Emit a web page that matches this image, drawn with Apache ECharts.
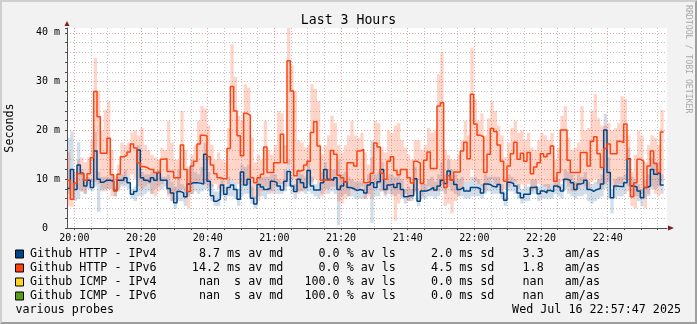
<!DOCTYPE html>
<html>
<head>
<meta charset="utf-8">
<script src="https://cdn.jsdelivr.net/npm/echarts@6/dist/echarts.min.js"></script>
<style>
  html, body { margin: 0; padding: 0; background: #f2f2f2; }
  #chart { width: 697px; height: 324px; }
</style>
</head>
<body>
<div id="chart"></div>
<script>
// Time axis in minutes of the day; the window runs 19:57:47 .. 22:57:47, one sample per minute.
const START = 19 * 60 + 57 + 47 / 60;
const SPAN = 180;

const SERIES_NAMES = ['Github HTTP - IPv4', 'Github HTTP - IPv6', 'Github ICMP - IPv4', 'Github ICMP - IPv6'];
const SERIES_COLORS = ['#004586', '#ff420e', '#ffd320', '#579d1c'];

// legend statistics
const AVG_MEDIAN = ['8.7', '14.2', 'nan', 'nan'];
const AVG_UNIT = ['ms', 'ms', ' s', ' s'];
const AVG_LOSS = ['0.0', '0.0', '100.0', '100.0'];
const AVG_SD = ['2.0', '4.5', '0.0', '0.0'];
const AM_AS = ['3.3', '1.8', 'nan', 'nan'];

const Y_TICKS_MAJOR = [0, 10, 20, 30, 40];
const X_LABEL_TIMES = ['20:00', '20:20', '20:40', '21:00', '21:20', '21:40', '22:00', '22:20', '22:40'];

// median RTT (ms) per minute
const ipv4Median = [
  8.1, 12.0, 7.9, 12.9, 11.2, 8.6, 9.8, 8.3, 15.8, 10.0, 9.4, 9.8, 9.8, 9.6, 7.7, 9.8, 9.8, 10.3, 9.3, 6.9, 7.5, 16.0, 10.3, 9.8, 9.4, 10.3, 9.8, 11.4, 9.8, 9.8,
  8.1, 7.2, 5.2, 7.5, 7.2, 6.4, 9.0, 9.3, 9.3, 9.2, 9.0, 15.1, 9.6, 6.6, 5.5, 5.9, 8.8, 6.9, 8.3, 8.8, 7.9, 5.9, 11.5, 8.8, 10.0, 6.1, 4.9, 8.9, 8.4, 7.9,
  8.1, 9.6, 9.3, 8.6, 7.8, 9.6, 11.6, 8.6, 7.5, 10.0, 9.3, 8.3, 11.8, 8.6, 7.8, 7.8, 9.3, 12.0, 10.0, 9.8, 10.3, 7.9, 8.6, 9.5, 8.3, 8.1, 7.7, 7.9, 7.7, 7.2,
  8.8, 9.3, 8.3, 9.5, 12.0, 7.9, 8.8, 9.0, 8.3, 9.1, 7.9, 6.4, 6.6, 6.6, 10.1, 5.5, 7.6, 7.6, 7.9, 8.3, 7.8, 8.6, 9.8, 9.1, 11.7, 9.8, 8.9, 7.9, 8.3, 7.6,
  7.6, 8.3, 8.3, 8.1, 7.2, 9.0, 8.9, 8.5, 8.4, 8.9, 7.2, 5.7, 9.4, 9.1, 8.6, 7.2, 6.2, 6.9, 6.9, 8.3, 8.4, 7.0, 7.6, 7.2, 7.7, 7.5, 8.6, 8.3, 7.6, 10.0,
  9.8, 9.3, 7.9, 9.0, 9.2, 9.8, 7.9, 7.5, 7.9, 8.1, 9.0, 20.1, 11.4, 6.2, 8.6, 8.5, 8.5, 9.3, 14.2, 8.6, 8.4, 7.6, 6.2, 8.3, 8.6, 12.0, 11.0, 11.4, 8.8
];
const ipv6Median = [
  9.8, 5.9, 9.2, 11.1, 11.1, 9.8, 11.1, 14.4, 28.0, 22.8, 15.3, 15.3, 18.4, 10.9, 7.6, 11.0, 14.6, 14.9, 15.6, 17.2, 16.4, 13.3, 12.6, 12.4, 12.0, 12.0, 11.4, 11.4, 14.1, 14.2,
  11.6, 11.6, 10.3, 10.3, 17.0, 12.0, 7.5, 12.7, 13.7, 17.2, 19.0, 18.9, 14.6, 12.9, 11.1, 10.3, 10.1, 10.1, 16.3, 29.0, 24.0, 18.9, 14.8, 23.5, 23.1, 10.3, 9.3, 10.3, 11.0, 16.6,
  11.4, 11.4, 13.4, 13.4, 19.2, 13.4, 34.3, 28.1, 10.7, 11.7, 11.9, 12.9, 13.7, 19.6, 21.8, 16.8, 9.8, 9.8, 9.8, 15.9, 15.1, 10.8, 10.3, 9.4, 13.4, 13.4, 12.7, 15.8, 16.1, 9.3,
  9.5, 11.2, 17.4, 16.6, 11.2, 10.0, 13.7, 14.6, 11.8, 10.9, 12.0, 12.0, 10.3, 9.2, 13.7, 13.3, 9.1, 13.9, 15.6, 12.2, 12.2, 25.0, 25.7, 8.3, 10.7, 9.8, 11.5, 11.5, 15.8, 17.6,
  14.2, 27.4, 21.3, 19.0, 18.7, 11.4, 15.1, 20.4, 19.8, 17.0, 13.7, 9.6, 12.7, 15.2, 17.6, 14.1, 15.3, 13.7, 15.5, 11.1, 12.5, 13.4, 15.2, 14.6, 15.2, 16.8, 9.6, 11.4, 20.1, 20.1,
  13.9, 11.4, 11.4, 11.4, 15.5, 15.5, 12.7, 17.8, 18.7, 15.2, 12.4, 16.3, 17.2, 15.2, 15.2, 17.8, 17.5, 21.3, 14.1, 6.4, 9.3, 14.1, 13.7, 8.3, 12.7, 15.8, 13.2, 11.4, 19.7
];

// smoke: spread of the individual pings per minute (low / high, ms)
const ipv4SmokeLow = [
  7.0, 6.5, 5.5, 6.0, 7.5, 7.0, 8.0, 7.5, 8.5, 3.3, 7.5, 8.0, 8.0, 8.0, 6.5, 8.0, 8.5, 8.5, 8.0, 6.0, 5.5, 6.5, 6.5, 7.0, 7.5, 7.0, 8.0, 8.5, 8.0, 8.5,
  7.0, 5.5, 4.0, 5.5, 5.5, 4.5, 6.5, 7.0, 7.5, 7.0, 7.5, 8.0, 7.5, 5.5, 4.5, 4.5, 6.5, 5.5, 6.5, 6.5, 6.0, 4.5, 6.5, 7.0, 7.0, 5.0, 4.0, 6.5, 6.5, 6.0,
  7.0, 7.5, 7.0, 7.0, 7.0, 7.5, 8.5, 7.0, 6.0, 7.5, 7.5, 7.0, 7.5, 7.0, 6.5, 6.0, 7.0, 8.0, 7.0, 7.5, 7.0, 0.6, 6.5, 7.0, 6.5, 6.5, 6.0, 6.0, 6.0, 6.0,
  7.0, 1.0, 6.5, 6.5, 7.5, 6.5, 7.0, 7.0, 6.5, 7.0, 6.0, 5.0, 5.5, 5.5, 7.5, 4.5, 6.0, 6.0, 6.5, 6.5, 6.0, 6.5, 7.5, 7.0, 8.5, 7.5, 7.0, 6.5, 6.5, 6.0,
  6.0, 6.5, 6.5, 6.5, 6.0, 7.0, 7.5, 7.0, 7.0, 7.0, 6.0, 4.5, 7.5, 7.5, 7.0, 6.0, 5.0, 5.5, 5.5, 7.0, 7.0, 5.5, 6.0, 6.0, 6.0, 6.0, 7.0, 6.5, 6.0, 8.0,
  7.0, 6.5, 6.0, 6.5, 6.5, 7.0, 5.5, 5.0, 5.5, 6.0, 6.5, 8.0, 6.0, 3.0, 6.0, 6.5, 6.5, 7.0, 8.5, 6.5, 6.5, 5.5, 4.5, 6.0, 6.5, 8.0, 8.0, 8.5, 7.0
];
const ipv4SmokeHigh = [
  18.5, 19.8, 9.0, 17.6, 12.0, 9.5, 10.5, 10.0, 19.7, 11.5, 10.5, 10.5, 10.5, 11.0, 8.5, 11.0, 11.0, 12.0, 10.5, 8.0, 8.5, 17.0, 11.5, 11.0, 11.0, 11.5, 11.5, 12.0, 10.5, 10.5,
  11.0, 9.5, 8.5, 12.0, 9.0, 8.5, 12.5, 14.0, 11.5, 11.0, 12.5, 17.5, 11.5, 9.0, 7.5, 7.5, 10.0, 8.5, 10.5, 10.0, 9.5, 8.0, 13.0, 12.5, 13.0, 8.5, 6.5, 10.5, 10.5, 10.5,
  10.5, 11.0, 11.0, 10.0, 9.5, 12.0, 14.0, 10.5, 9.0, 12.0, 11.0, 10.5, 13.5, 10.5, 9.0, 9.0, 11.5, 13.5, 12.0, 12.0, 12.0, 14.0, 11.0, 11.5, 10.5, 10.0, 9.5, 9.5, 9.5, 9.0,
  11.0, 18.0, 11.0, 11.5, 13.5, 10.0, 11.0, 11.0, 10.5, 11.0, 10.0, 8.0, 8.5, 8.0, 12.5, 7.5, 9.5, 9.0, 10.0, 10.5, 9.5, 11.0, 13.5, 11.0, 14.0, 12.0, 11.0, 10.0, 10.5, 9.5,
  9.5, 10.5, 10.5, 10.0, 9.0, 11.0, 10.5, 10.5, 10.5, 10.5, 9.0, 7.5, 11.0, 10.5, 10.0, 9.0, 8.0, 8.5, 8.5, 10.0, 10.0, 8.5, 9.0, 9.0, 9.0, 9.0, 10.5, 10.0, 9.0, 12.0,
  11.5, 11.0, 9.5, 11.0, 10.5, 11.5, 9.5, 9.0, 9.5, 10.0, 11.0, 23.4, 14.5, 8.0, 10.0, 10.5, 10.5, 11.0, 16.5, 10.5, 10.0, 9.0, 8.0, 10.0, 11.0, 14.5, 13.5, 13.5, 11.0
];
const ipv6SmokeLow = [
  4.5, 4.3, 8.5, 8.0, 7.5, 7.0, 9.0, 9.5, 9.5, 9.0, 8.0, 7.5, 8.0, 6.5, 6.5, 7.5, 9.0, 9.5, 10.5, 11.0, 10.0, 8.5, 8.0, 8.5, 9.0, 7.0, 6.5, 7.5, 9.0, 10.0,
  6.5, 5.5, 7.0, 7.5, 8.0, 6.0, 4.0, 7.0, 9.0, 9.5, 9.0, 9.0, 8.5, 8.5, 9.0, 8.0, 7.5, 8.5, 9.0, 10.0, 9.5, 9.0, 8.5, 9.0, 9.0, 6.0, 6.0, 5.5, 7.5, 8.5,
  7.5, 7.0, 8.5, 9.0, 9.0, 8.5, 13.0, 10.0, 8.0, 7.0, 7.5, 8.0, 9.0, 9.5, 10.0, 9.0, 6.5, 7.0, 8.0, 8.5, 8.5, 5.5, 5.0, 6.0, 6.5, 8.0, 7.5, 8.0, 8.5, 6.0,
  6.5, 6.0, 9.0, 9.0, 7.5, 7.0, 8.0, 6.5, 1.5, 5.0, 6.5, 7.0, 5.5, 6.0, 7.0, 7.5, 6.5, 7.5, 8.5, 7.5, 7.5, 7.5, 9.0, 4.5, 5.0, 3.0, 5.5, 6.5, 8.0, 9.5,
  9.5, 12.0, 9.5, 9.0, 8.5, 7.5, 9.0, 10.0, 9.0, 8.5, 7.0, 8.0, 8.5, 9.0, 9.5, 8.0, 9.0, 8.5, 9.0, 7.5, 8.0, 9.0, 9.0, 8.5, 8.0, 9.0, 8.5, 8.0, 9.5, 9.5,
  8.5, 7.5, 7.5, 8.0, 9.0, 8.5, 8.0, 9.5, 10.0, 9.0, 8.0, 9.0, 9.5, 8.5, 8.0, 9.0, 9.0, 10.0, 7.5, 4.5, 4.0, 6.5, 7.0, 4.0, 7.0, 8.5, 7.0, 6.5, 9.5
];
const ipv6SmokeHigh = [
  15.5, 12.0, 11.5, 14.0, 14.5, 13.5, 14.5, 18.0, 34.9, 28.2, 20.0, 24.2, 25.9, 16.0, 10.5, 13.0, 17.5, 17.0, 17.5, 19.5, 20.0, 19.0, 20.5, 17.0, 16.0, 15.0, 14.5, 14.0, 16.5, 16.0,
  22.0, 17.5, 14.0, 14.0, 24.0, 16.0, 12.0, 15.0, 17.0, 22.0, 25.0, 24.5, 21.0, 17.0, 14.0, 15.5, 14.0, 13.5, 20.5, 37.7, 31.0, 23.0, 22.0, 29.5, 28.8, 18.5, 13.5, 15.0, 14.0, 22.0,
  16.0, 15.0, 17.0, 24.0, 23.5, 17.0, 41.0, 33.3, 28.0, 18.0, 17.5, 16.5, 17.0, 29.5, 28.5, 26.0, 15.0, 17.0, 19.0, 23.0, 21.5, 17.0, 15.5, 17.0, 19.0, 22.0, 19.0, 18.5, 19.5, 15.5,
  13.0, 14.5, 22.0, 21.5, 16.5, 15.5, 20.0, 19.5, 21.0, 21.5, 18.0, 16.5, 15.0, 14.0, 18.0, 18.0, 16.0, 17.0, 20.5, 19.5, 20.0, 31.5, 36.0, 16.0, 15.0, 14.0, 14.0, 15.0, 18.0, 22.0,
  19.0, 37.0, 26.5, 22.0, 23.5, 19.0, 22.5, 26.0, 24.0, 21.0, 19.0, 14.5, 17.5, 20.5, 22.0, 19.5, 20.0, 18.0, 19.5, 16.5, 16.0, 18.0, 19.5, 19.0, 18.0, 19.5, 14.0, 16.5, 23.0, 25.0,
  18.5, 16.0, 16.5, 17.5, 25.0, 20.0, 20.5, 24.0, 27.5, 22.5, 21.0, 21.0, 21.5, 20.0, 20.5, 21.5, 27.0, 26.5, 19.0, 11.5, 15.0, 20.0, 19.0, 13.5, 17.0, 19.0, 18.5, 17.0, 24.2
];

// ---- helpers ----
function hhmm(v) {
  const h = Math.floor(v / 60), m = Math.round(v - h * 60);
  return String(h).padStart(2, '0') + ':' + String(m).padStart(2, '0');
}
function toMinutes(label) {
  const p = label.split(':');
  return (+p[0]) * 60 + (+p[1]);
}
const xLabelValues = X_LABEL_TIMES.map(toMinutes);
const xTickValues = [];
for (let t = xLabelValues[0]; t < START + SPAN; t += 5) xTickValues.push(t);

function stepLine(values) {
  const pts = values.map((v, i) => [START + i, v]);
  pts.push([START + values.length, values[values.length - 1]]);
  return pts;
}
function smokeData(lo, hi) {
  return lo.map((v, i) => [START + i, v, hi[i]]);
}
function smokeSeries(name, lo, hi, fill) {
  return {
    type: 'custom', name: name, z: 1, clip: true, silent: true,
    data: smokeData(lo, hi),
    encode: { x: 0, y: [1, 2] },
    renderItem: function (params, api) {
      const t = api.value(0);
      const a = api.coord([t, api.value(2)]);
      const b = api.coord([t + 1, api.value(1)]);
      return {
        type: 'rect',
        shape: { x: a[0], y: a[1], width: b[0] - a[0], height: b[1] - a[1] },
        style: { fill: fill }
      };
    }
  };
}
function legendRow(i) {
  return SERIES_NAMES[i].padEnd(18) + AVG_MEDIAN[i].padStart(9) + ' ' + AVG_UNIT[i] + ' av md' +
    AVG_LOSS[i].padStart(8) + ' % av ls' + AVG_SD[i].padStart(8) + ' ms sd' +
    AM_AS[i].padStart(7) + '   am/as';
}
const legendText = {};
SERIES_NAMES.forEach((n, i) => { legendText[n] = legendRow(i); });

const MONO = 'DejaVu Sans Mono';
const GRID_MINOR = 'rgba(143,143,143,0.55)';
const GRID_MAJOR = 'rgba(222,80,80,0.55)';
const AXIS_COLOR = '#505050';
const ARROW_COLOR = '#7f1f1f';

const chart = echarts.init(document.getElementById('chart'), null, { renderer: 'canvas' });
chart.setOption({
  backgroundColor: '#f2f2f2',
  animation: false,
  title: {
    text: 'Last 3 Hours', left: 'center', top: 14, padding: 0,
    textStyle: { fontFamily: MONO, fontSize: 13.2, fontWeight: 'normal', color: '#000' }
  },
  grid: { left: 67, top: 28, width: 600, height: 200, backgroundColor: '#fff', show: true, borderWidth: 0, outerBoundsMode: 'none' },
  xAxis: [{
    type: 'value', min: START, max: START + SPAN,
    axisLine: { onZero: false, lineStyle: { color: AXIS_COLOR, width: 1 } },
    axisTick: { show: true, length: 2, customValues: xTickValues, lineStyle: { color: AXIS_COLOR } },
    axisLabel: {
      customValues: xLabelValues, margin: 5, formatter: hhmm,
      fontFamily: MONO, fontSize: 10, color: '#000'
    },
    splitLine: {
      show: true,
      lineStyle: { color: [GRID_MAJOR, GRID_MINOR, GRID_MINOR, GRID_MINOR], width: 1, type: [1, 2] }
    }
  }, {
    type: 'value', min: START, max: START + SPAN, position: 'bottom',
    axisLine: { show: true, onZero: false, symbol: ['none', 'triangle'], symbolSize: [5, 6], symbolOffset: [0, 4],
      lineStyle: { color: ARROW_COLOR, width: 0 } },
    axisTick: { show: false }, axisLabel: { show: false }, splitLine: { show: false }
  }],
  yAxis: [{
    type: 'value', min: 0, max: 41, interval: 2,
    name: 'Seconds', nameLocation: 'middle', nameRotate: 90, nameGap: 51,
    nameTextStyle: { fontFamily: MONO, fontSize: 11.7, color: '#000' },
    axisLine: { show: true, lineStyle: { color: AXIS_COLOR, width: 1 } },
    axisTick: { show: true, length: 2, lineStyle: { color: AXIS_COLOR } },
    axisLabel: {
      margin: 7, fontFamily: MONO, fontSize: 10, color: '#000',
      formatter: v => Y_TICKS_MAJOR.indexOf(v) < 0 ? '' : (v === 0 ? '0  ' : v + ' m')
    },
    splitLine: {
      show: true, showMaxLine: false,
      lineStyle: { color: [GRID_MAJOR, GRID_MINOR, GRID_MINOR, GRID_MINOR, GRID_MINOR], width: 1, type: [1, 2] }
    }
  }, {
    type: 'value', min: 0, max: 41, position: 'left',
    axisLine: { show: true, symbol: ['none', 'triangle'], symbolSize: [5, 5], symbolOffset: [0, 4.5],
      lineStyle: { color: ARROW_COLOR, width: 0 } },
    axisTick: { show: false }, axisLabel: { show: false }, splitLine: { show: false }
  }],
  legend: {
    orient: 'vertical', left: 15, top: 247, padding: 0, itemGap: 0,
    itemWidth: 8, itemHeight: 8, icon: 'rect', selectedMode: false,
    itemStyle: { borderColor: '#000', borderWidth: 1 },
    data: SERIES_NAMES,
    formatter: name => legendText[name],
    textStyle: { fontFamily: MONO, fontSize: 11.7, color: '#000', lineHeight: 14, padding: [0, 0, 0, 1.5] }
  },
  series: [
    smokeSeries('ipv4 smoke', ipv4SmokeLow, ipv4SmokeHigh, 'rgba(0,69,134,0.18)'),
    smokeSeries('ipv6 smoke', ipv6SmokeLow, ipv6SmokeHigh, 'rgba(255,66,14,0.22)'),
    {
      type: 'line', name: SERIES_NAMES[0], step: 'end', symbol: 'none', z: 3,
      color: SERIES_COLORS[0], lineStyle: { color: SERIES_COLORS[0], width: 1.5 },
      data: stepLine(ipv4Median)
    },
    {
      type: 'line', name: SERIES_NAMES[1], step: 'end', symbol: 'none', z: 4,
      color: SERIES_COLORS[1], lineStyle: { color: SERIES_COLORS[1], width: 1.5 },
      data: stepLine(ipv6Median)
    },
    { type: 'line', name: SERIES_NAMES[2], symbol: 'none', color: SERIES_COLORS[2], data: [] },
    { type: 'line', name: SERIES_NAMES[3], symbol: 'none', color: SERIES_COLORS[3], data: [] }
  ],
  graphic: [
    // bevelled frame
    { type: 'polygon', silent: true, shape: { points: [[0, 0], [697, 0], [695, 2], [2, 2], [2, 322], [0, 324]] }, style: { fill: '#cfcfcf' } },
    { type: 'polygon', silent: true, shape: { points: [[697, 0], [697, 324], [0, 324], [2, 322], [695, 322], [695, 2]] }, style: { fill: '#9e9e9e' } },
    {
      type: 'text', silent: true, x: 688.5, y: 5, rotation: -Math.PI / 2,
      style: { text: 'RRDTOOL / TOBI OETIKER', font: '8.2px "DejaVu Sans Mono"', fill: '#a8a8a8',
        align: 'left', verticalAlign: 'middle', textAlign: 'left', textVerticalAlign: 'middle' }
    },
    {
      type: 'text', silent: true, x: 15.5, y: 310,
      style: { text: 'various probes', font: '11.7px "DejaVu Sans Mono"', fill: '#000',
        align: 'left', verticalAlign: 'middle', textAlign: 'left', textVerticalAlign: 'middle' }
    },
    {
      type: 'text', silent: true, x: 681, y: 310,
      style: { text: 'Wed Jul 16 22:57:47 2025', font: '11.7px "DejaVu Sans Mono"', fill: '#000',
        align: 'right', verticalAlign: 'middle', textAlign: 'right', textVerticalAlign: 'middle' }
    }
  ]
});
</script>
</body>
</html>
